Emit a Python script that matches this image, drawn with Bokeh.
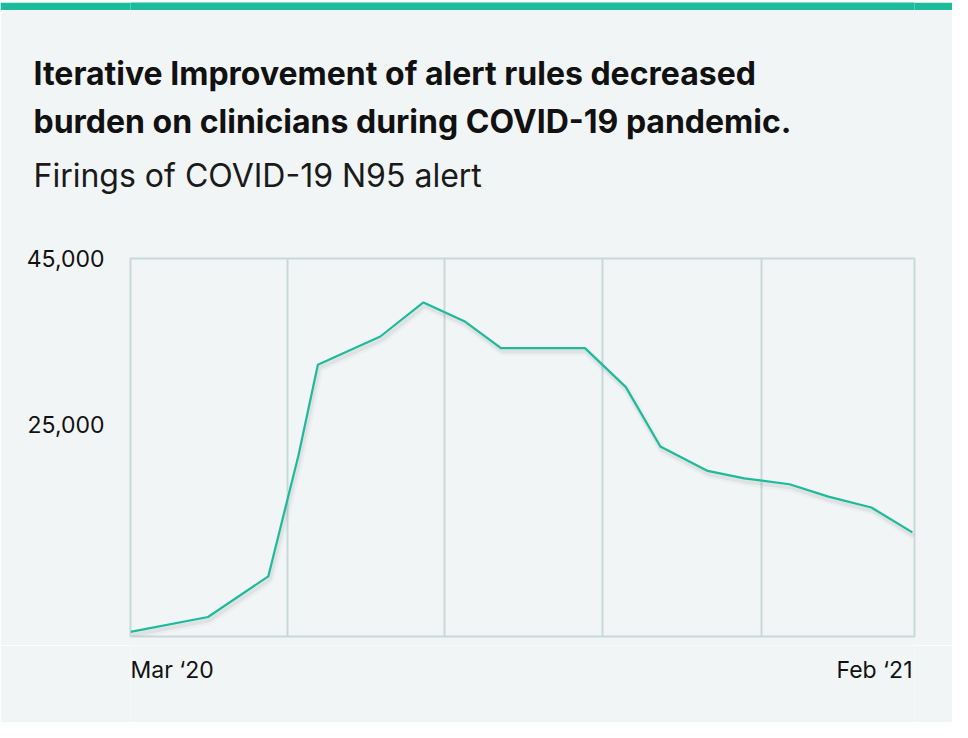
from bokeh.plotting import figure
from bokeh.models import Range1d, FixedTicker, NumeralTickFormatter, ColumnDataSource, Title
from bokeh.layouts import column
from bokeh.transform import dodge
from bokeh.core.properties import value
from bokeh.embed import file_html
from bokeh.resources import INLINE

# ---------------- data ----------------
title_lines = ["Iterative Improvement of alert rules decreased",
               "burden on clinicians during COVID-19 pandemic."]
subtitle = "Firings of COVID-19 N95 alert"
# days since 1 Mar 2020
days = [0, 36, 64, 78, 87, 116, 136, 155, 172, 211, 230, 246, 268, 285, 306, 324, 344, 363]
firings = [0, 1800, 6700, 21300, 32200, 35600, 39700, 37450, 34200, 34200,
           29500, 22350, 19400, 18500, 17800, 16300, 15000, 12000]
y_ticks = [25000, 45000]
x_tick_labels = ["Mar \u201820", "Feb \u201821"]
x_grid_days = [73, 146, 219, 293]

# ---------------- style ----------------
BG = "#f1f5f6"
TEAL = "#1abc9c"
LINE = "#1dbb9a"
GRID = "#c8d9da"
TXT = "#111111"
FONT = "Inter"

x_start, x_end = 0, 364
y_start, y_end = -550, 45000

W = 952
BAR_H = 10
MAIN_H = 635          # 10 .. 645
FOOT_H = 77           # 645 .. 722
FL, FR = 130, 914
FRAME_TOP = 258


def blank(fig):
    fig.axis.visible = False
    fig.grid.visible = False
    return fig


bar = blank(figure(width=W, height=BAR_H, output_backend="svg", toolbar_location=None,
                   min_border=0, background_fill_color=TEAL, border_fill_color=TEAL,
                   outline_line_color=None))

# ---------------- main chart ----------------
xr = Range1d(x_start, x_end)
p = figure(width=W, height=MAIN_H, output_backend="svg", toolbar_location=None,
           x_range=xr, y_range=Range1d(y_start, y_end),
           min_border_left=FL, min_border_right=W - FR,
           min_border_top=FRAME_TOP - BAR_H, min_border_bottom=645 - 636,
           background_fill_color=BG, border_fill_color=BG,
           outline_line_color=GRID, outline_line_width=2)

# titles (first added sits closest to the frame); first one is an empty spacer
p.add_layout(Title(text=" ", align="left", standoff=50.8, text_font_size="2px"), "above")
p.add_layout(Title(text=subtitle, align="left", offset=-97, standoff=16.5,
                   text_font=FONT, text_font_style="normal", text_font_size="32px",
                   text_color="#1a1a1a"), "above")
p.add_layout(Title(text=title_lines[1], align="left", offset=-97, standoff=9.5,
                   text_font=FONT, text_font_style="bold", text_font_size="32px",
                   text_color=TXT), "above")
p.add_layout(Title(text=title_lines[0], align="left", offset=-97, standoff=3.5,
                   text_font=FONT, text_font_style="bold", text_font_size="32px",
                   text_color=TXT), "above")

p.xaxis.visible = False
p.ygrid.visible = False
p.xgrid.ticker = FixedTicker(ticks=x_grid_days)
p.xgrid.grid_line_color = GRID
p.xgrid.grid_line_width = 2

ya = p.yaxis[0]
ya.ticker = FixedTicker(ticks=y_ticks)
ya.formatter = NumeralTickFormatter(format="0,0")
ya.axis_line_color = None
ya.major_tick_line_color = None
ya.minor_tick_line_color = None
ya.major_tick_out = 0
ya.major_tick_in = 0
ya.major_label_standoff = 26
ya.major_label_text_font = FONT
ya.major_label_text_font_size = "23px"
ya.major_label_text_color = TXT

src = ColumnDataSource(dict(x=days, y=firings))
p.line(x=dodge("x", 0.8), y=dodge("y", -450), source=src,
       line_width=8, line_color="#000000", line_alpha=0.025)
p.line(x=dodge("x", 0.6), y=dodge("y", -400), source=src,
       line_width=4, line_color="#000000", line_alpha=0.05)
p.line(x="x", y="y", source=src, line_width=2.2, line_color=LINE)

# ---------------- footer (x tick labels) ----------------
foot = blank(figure(width=W, height=FOOT_H, output_backend="svg", toolbar_location=None,
                    x_range=xr, y_range=Range1d(FOOT_H, 0),
                    min_border_left=FL, min_border_right=W - FR,
                    min_border_top=0, min_border_bottom=0,
                    background_fill_color=BG, border_fill_color=BG,
                    outline_line_color=None))
foot.text(x=[x_start], y=[24.3], text=[x_tick_labels[0]], x_offset=0,
          text_font=value(FONT), text_font_size="23px", text_color=TXT,
          text_align="left", text_baseline="alphabetic")
foot.text(x=[x_end], y=[24.3], text=[x_tick_labels[1]], x_offset=-2,
          text_font=value(FONT), text_font_size="23px", text_color=TXT,
          text_align="right", text_baseline="alphabetic")

layout = column(bar, p, foot, spacing=0)
open("out.html", "w").write(file_html(layout, INLINE))
